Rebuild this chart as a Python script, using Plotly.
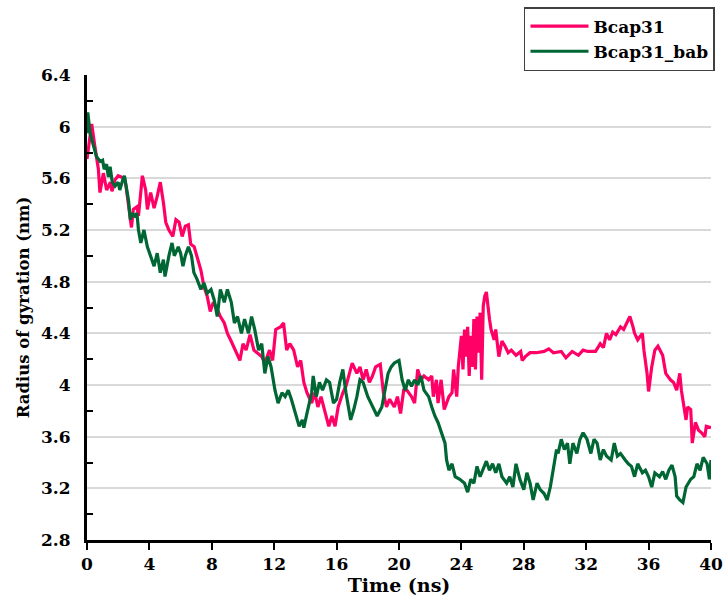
import plotly.graph_objects as go

# ---- data ----
t_bcap31 = [0.0, 0.3, 0.5, 0.73, 0.83, 1.05, 1.26, 1.5, 1.6, 1.8, 2.0, 2.4, 2.5, 2.74, 2.85, 2.97,
            3.2, 3.3, 3.55, 3.76, 3.87, 4.08, 4.3, 4.5, 4.7, 4.9, 5.05, 5.25, 5.5, 5.7, 5.9, 6.1,
            6.3, 6.5, 6.65, 6.87, 7.1, 7.3, 7.5, 7.7, 7.9, 8.1, 8.3, 8.55, 8.8, 9.0, 9.2, 9.4,
            9.8, 10.0, 10.2, 10.45, 10.7, 10.9, 11.2, 11.4, 11.7, 11.9, 12.1, 12.4, 12.6, 12.8,
            13.0, 13.25, 13.5, 13.7, 13.9, 14.1, 14.4, 14.6, 14.8, 15.0, 15.3, 15.5, 15.7, 15.9,
            16.1, 16.4, 16.6, 16.8, 17.0, 17.3, 17.5, 17.7, 17.9, 18.1, 18.3, 18.5, 18.8, 19.0,
            19.2, 19.4, 19.7, 19.9, 20.1, 20.3, 20.5, 20.8, 21.0, 21.2, 21.4, 21.6, 21.9, 22.1,
            22.2, 22.4, 22.5, 22.7, 22.9, 23.2, 23.4, 23.5, 23.7, 23.8, 24.0, 24.1, 24.2, 24.3,
            24.4, 24.5, 24.6, 24.7, 24.8, 24.9, 25.0, 25.1, 25.2, 25.3, 25.4, 25.5, 25.6, 25.8,
            25.9, 26.1, 26.2, 26.4, 26.6, 26.8, 27.0, 27.2, 27.5, 27.8, 27.9, 28.1, 28.4, 28.8,
            29.3, 29.6, 29.9, 30.4, 30.7, 31.1, 31.5, 31.8, 32.1, 32.6, 32.9, 33.1, 33.3, 33.5,
            33.7, 33.9, 34.2, 34.4, 34.6, 34.8, 35.0, 35.1, 35.3, 35.6, 35.7, 35.9, 36.0, 36.2,
            36.4, 36.6, 36.9, 37.1, 37.4, 37.6, 37.8, 38.0, 38.1, 38.3, 38.4, 38.5, 38.7, 38.8,
            39.0, 39.2, 39.4, 39.6, 39.7, 40.0]
rg_bcap31 = [5.75, 6.02, 5.85, 5.67, 5.49, 5.64, 5.51, 5.57, 5.50, 5.59, 5.62, 5.60, 5.54, 5.31, 5.22, 5.36,
             5.38, 5.31, 5.62, 5.51, 5.36, 5.49, 5.37, 5.46, 5.57, 5.41, 5.26, 5.20, 5.15, 5.28, 5.26, 5.15,
             5.23, 5.24, 5.09, 5.07, 4.97, 4.89, 4.76, 4.69, 4.57, 4.64, 4.60, 4.53, 4.48, 4.40, 4.35, 4.30,
             4.19, 4.32, 4.27, 4.39, 4.27, 4.25, 4.22, 4.17, 4.27, 4.19, 4.43, 4.45, 4.48, 4.27,
             4.32, 4.27, 4.14, 4.19, 4.02, 3.94, 3.86, 3.94, 3.83, 3.91, 3.76, 3.68, 3.76, 3.68,
             3.83, 3.94, 3.99, 4.07, 4.17, 4.09, 4.14, 4.04, 4.12, 4.02, 4.07, 4.14, 4.16, 3.94,
             3.83, 3.89, 3.83, 3.91, 3.78, 3.96, 3.96, 3.91, 3.86, 4.12, 4.04, 4.07, 4.04, 4.07,
             3.91, 4.04, 3.86, 4.04, 3.81, 3.91, 3.94, 4.12, 3.91, 4.14, 4.38, 4.12, 4.43, 4.22,
             4.45, 4.07, 4.38, 4.14, 4.51, 4.12, 4.53, 4.25, 4.56, 4.04, 4.61, 4.69, 4.72, 4.51,
             4.43, 4.35, 4.43, 4.22, 4.34, 4.30, 4.25, 4.27, 4.23, 4.26, 4.19, 4.22, 4.25, 4.25,
             4.26, 4.28, 4.25, 4.26, 4.21, 4.26, 4.23, 4.27, 4.26, 4.26, 4.32, 4.29, 4.40, 4.35,
             4.41, 4.39, 4.45, 4.43, 4.48, 4.53, 4.45, 4.40, 4.35, 4.40, 4.27, 4.09, 3.95, 4.14,
             4.27, 4.30, 4.23, 4.09, 4.04, 4.02, 3.96, 4.09, 3.96, 3.81, 3.73, 3.83, 3.81, 3.55,
             3.71, 3.65, 3.63, 3.60, 3.68, 3.67]

t_bcap31_bab = [0.0, 0.05, 0.2, 0.35, 0.5, 0.6, 0.85, 1.0, 1.1, 1.25, 1.37, 1.48, 1.62, 1.8, 2.0, 2.1,
                2.3, 2.4, 2.55, 2.66, 2.78, 2.9, 3.05, 3.2, 3.3, 3.45, 3.65, 3.87, 4.1, 4.3, 4.5, 4.7,
                4.9, 5.0, 5.25, 5.45, 5.6, 5.85, 6.0, 6.15, 6.3, 6.5, 6.7, 6.85, 7.05, 7.3, 7.5, 7.7,
                7.95, 8.15, 8.35, 8.55, 8.8, 9.0, 9.25, 9.45, 9.65, 9.9, 10.1, 10.35, 10.55, 10.75,
                11.0, 11.2, 11.4, 11.6, 11.8, 12.05, 12.25, 12.5, 12.7, 12.9, 13.1, 13.4, 13.6, 13.8,
                13.9, 14.1, 14.4, 14.5, 14.7, 14.9, 15.1, 15.35, 15.55, 15.8, 16.0, 16.2, 16.4, 16.6,
                16.9, 17.1, 17.3, 17.5, 17.7, 18.0, 18.2, 18.4, 18.6, 18.9, 19.1, 19.3, 19.5, 19.7,
                20.0, 20.2, 20.4, 20.6, 20.8, 21.0, 21.2, 21.4, 21.6, 21.9, 22.1, 22.3, 22.5, 22.75,
                22.95, 23.05, 23.2, 23.4, 23.6, 23.9, 24.2, 24.4, 24.6, 24.8, 25.0, 25.2, 25.5, 25.6,
                25.8, 26.0, 26.2, 26.4, 26.6, 26.9, 27.1, 27.3, 27.5, 27.75, 28.0, 28.2, 28.4, 28.6,
                28.85, 29.05, 29.3, 29.5, 29.7, 29.9, 30.1, 30.2, 30.4, 30.6, 30.8, 30.95, 31.15, 31.4,
                31.6, 31.8, 32.05, 32.3, 32.5, 32.7, 32.9, 33.1, 33.3, 33.6, 33.8, 34.0, 34.2, 34.5,
                34.7, 34.9, 35.1, 35.3, 35.6, 35.8, 36.0, 36.2, 36.4, 36.7, 36.9, 37.1, 37.3, 37.5,
                37.7, 37.8, 38.0, 38.2, 38.4, 38.7, 38.9, 39.1, 39.3, 39.5, 39.75, 39.9, 40.0]
rg_bcap31_bab = [5.95, 6.11, 5.95, 5.88, 5.80, 5.77, 5.73, 5.74, 5.67, 5.71, 5.61, 5.69, 5.57, 5.54, 5.57, 5.51,
                 5.59, 5.62, 5.51, 5.43, 5.28, 5.33, 5.31, 5.33, 5.20, 5.10, 5.20, 5.07, 4.99, 4.92, 5.02, 4.87,
                 4.97, 4.84, 5.00, 5.10, 5.00, 5.07, 5.02, 4.92, 5.00, 5.07, 5.00, 4.87, 4.82, 4.74, 4.79, 4.71,
                 4.74, 4.66, 4.53, 4.74, 4.64, 4.74, 4.64, 4.48, 4.53, 4.40, 4.51, 4.40, 4.53, 4.43,
                 4.27, 4.32, 4.09, 4.22, 4.14, 3.96, 3.86, 3.94, 3.91, 3.96, 3.89, 3.76, 3.68, 3.73,
                 3.67, 3.78, 3.94, 4.07, 3.91, 4.02, 3.96, 4.04, 4.02, 3.86, 3.89, 4.02, 4.12, 3.94,
                 3.73, 3.81, 3.91, 4.04, 4.02, 3.91, 3.86, 3.81, 3.76, 3.83, 3.96, 4.09, 4.14, 4.17,
                 4.19, 4.04, 3.96, 4.04, 3.99, 4.04, 4.00, 4.07, 3.96, 3.91, 3.83, 3.76, 3.71, 3.63,
                 3.55, 3.42, 3.34, 3.39, 3.29, 3.27, 3.24, 3.17, 3.27, 3.24, 3.37, 3.29, 3.37, 3.41,
                 3.34, 3.39, 3.32, 3.39, 3.29, 3.24, 3.29, 3.21, 3.39, 3.27, 3.19, 3.32, 3.24, 3.11,
                 3.24, 3.19, 3.16, 3.11, 3.21, 3.37, 3.50, 3.47, 3.58, 3.50, 3.55, 3.39, 3.55, 3.47,
                 3.58, 3.63, 3.58, 3.47, 3.58, 3.55, 3.42, 3.50, 3.45, 3.42, 3.55, 3.45, 3.47, 3.42,
                 3.39, 3.37, 3.29, 3.39, 3.32, 3.34, 3.29, 3.21, 3.32, 3.29, 3.33, 3.27, 3.34, 3.38,
                 3.29, 3.14, 3.11, 3.09, 3.21, 3.27, 3.29, 3.39, 3.34, 3.44, 3.39, 3.27, 3.42]

series_names = ["Bcap31", "Bcap31_bab"]
series_colors = ["#ff0066", "#006633"]

x_tick_vals = [0, 4, 8, 12, 16, 20, 24, 28, 32, 36, 40]
x_tick_labels = ["0", "4", "8", "12", "16", "20", "24", "28", "32", "36", "40"]
y_tick_vals = [2.8, 3.2, 3.6, 4.0, 4.4, 4.8, 5.2, 5.6, 6.0, 6.4]
y_tick_labels = ["2.8", "3.2", "3.6", "4", "4.4", "4.8", "5.2", "5.6", "6", "6.4"]
y_minor_vals = [3.0, 3.4, 3.8, 4.2, 4.6, 5.0, 5.4, 5.8, 6.2]

FONT = "DejaVu Serif"

fig = go.Figure()
for name, tx, yv, col in [(series_names[0], t_bcap31, rg_bcap31, series_colors[0]),
                          (series_names[1], t_bcap31_bab, rg_bcap31_bab, series_colors[1])]:
    fig.add_trace(go.Scatter(x=tx, y=yv, mode="lines", name=name,
                             line=dict(color=col, width=3.2)))

fig.update_layout(
    width=724, height=602,
    margin=dict(l=87, r=13, t=75, b=62, autoexpand=False),
    paper_bgcolor="white", plot_bgcolor="white",
    font=dict(family=FONT, color="black", size=17, weight="bold"),
    showlegend=True,
    legend=dict(x=1.0064, y=1.146, xanchor="right", yanchor="top",
                bordercolor="#404040", borderwidth=1.5, bgcolor="white",
                font=dict(family=FONT, size=17, color="black", weight="bold"),
                itemwidth=58, tracegroupgap=0),
    xaxis=dict(range=[0, 40], tickmode="array", tickvals=x_tick_vals, ticktext=x_tick_labels,
               automargin=False,
               showgrid=False, zeroline=False, showline=True, linecolor="black", linewidth=2.5,
               ticks="outside", ticklen=7, tickwidth=2, tickcolor="black",
               tickfont=dict(family=FONT, size=17, weight="bold"),
               title=dict(text="Time (ns)", font=dict(family=FONT, size=19, weight="bold"), standoff=4)),
    yaxis=dict(range=[2.8, 6.4], tickmode="array", tickvals=y_tick_vals, ticktext=y_tick_labels,
               automargin=False,
               showgrid=True, gridcolor="#d9d9d9", gridwidth=1.5, zeroline=False,
               showline=True, linecolor="black", linewidth=3,
               ticks="", ticklabelstandoff=10,
               minor=dict(tickmode="array", tickvals=y_minor_vals,
                          ticks="inside", ticklen=6, tickwidth=2, tickcolor="black", showgrid=False),
               tickfont=dict(family=FONT, size=17, weight="bold"),
               title=dict(text="Radius of gyration (nm)", font=dict(family=FONT, size=16.5, weight="bold"),
                          standoff=8)),
)

fig.write_html("out.html", config={"displayModeBar": False},
               post_script="document.body.style.margin='0px';document.body.style.overflow='hidden';")
